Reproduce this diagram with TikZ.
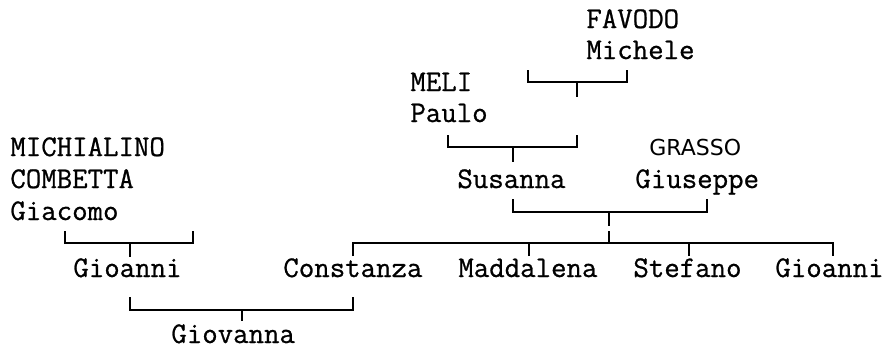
\documentclass[tikz,border=0pt]{standalone}
\usepackage{fontspec}
\usetikzlibrary{positioning}
\newfontfamily\personfont[FakeBold=0.8]{Latin Modern Mono}
\newfontfamily\surnamefont{DejaVu Sans}
\tikzset{
	person/.style={anchor=base west,inner sep=0pt,font=\personfont\fontsize{15}{18}\selectfont},
	surname/.style={anchor=base west,inner sep=0pt,font=\surnamefont\fontsize{11}{13}\selectfont},
	link/.style={line width=0.75pt}
}

\begin{document}
\begin{tikzpicture}[x=0.5pt,y=-0.5pt]
	\useasboundingbox (0,0) rectangle (883,354);
	% names
	\node[person] (favodo) at (586,28) {FAVODO};
	\node[person] (michele) at (586,59) {Michele};
	\node[person] (meli) at (410,91) {MELI};
	\node[person] (paulo) at (410,122) {Paulo};
	\node[person] (michialino) at (10,156) {MICHIALINO};
	\node[person] (combetta) at (10,188) {COMBETTA};
	\node[person] (giacomo) at (10,220) {Giacomo};
	\node[surname] (grasso) at (649,155) {GRASSO};
	\node[person] (susanna) at (457,188) {Susanna};
	\node[person] (giuseppe) at (635,188) {Giuseppe};
	\node[person] (gioanni) at (73,277) {Gioanni};
	\node[person] (constanza) at (283,277) {Constanza};
	\node[person] (maddalena) at (458,277) {Maddalena};
	\node[person] (stefano) at (633,277) {Stefano};
	\node[person] (gioannib) at (775,277) {Gioanni};
	\node[person] (giovanna) at (171,343) {Giovanna};

	% bracket under Michele
	\node[coordinate] (micl) at (528,70) {};
	\node[coordinate] (micr) at (627,70) {};
	\node[coordinate] (micj) at (577,82) {};
	\node[coordinate] (mics) at (577,97) {};
	\draw[link] (micl) |- (micj) -| (micr);
	\draw[link] (micj) -- (mics);

	% bracket under Paulo
	\node[coordinate] (paul) at (448,135) {};
	\node[coordinate] (paur) at (577,135) {};
	\node[coordinate] (pauj) at (513,147) {};
	\node[coordinate] (paus) at (513,162) {};
	\draw[link] (paul) |- (pauj) -| (paur);
	\draw[link] (pauj) -- (paus);

	% bracket under Susanna and Giuseppe
	\node[coordinate] (susl) at (513,199) {};
	\node[coordinate] (susr) at (707,199) {};
	\node[coordinate] (susj) at (609,212) {};
	\node[coordinate] (suss) at (609,226) {};
	\draw[link] (susl) |- (susj) -| (susr);
	\draw[link] (susj) -- (suss);

	% bracket under Giacomo
	\node[coordinate] (gial) at (65,231) {};
	\node[coordinate] (giar) at (193,231) {};
	\node[coordinate] (giaj) at (130,243) {};
	\node[coordinate] (gias) at (130,257) {};
	\draw[link] (gial) |- (giaj) -| (giar);
	\draw[link] (giaj) -- (gias);

	% children bar
	\node[coordinate] (kidt) at (609,231) {};
	\node[coordinate] (kidj) at (609,243) {};
	\node[coordinate] (kid1) at (353,256) {};
	\node[coordinate] (kid2) at (529,256) {};
	\node[coordinate] (kid3) at (689,256) {};
	\node[coordinate] (kid4) at (833,256) {};
	\draw[link] (kidt) -- (kidj);
	\draw[link] (kid1) |- (kidj) -| (kid4);
	\draw[link] (kid2) -- (kid2 |- kidj);
	\draw[link] (kid3) -- (kid3 |- kidj);

	% bracket under Gioanni and Constanza
	\node[coordinate] (giol) at (130,297) {};
	\node[coordinate] (gior) at (353,297) {};
	\node[coordinate] (gioj) at (242,310) {};
	\node[coordinate] (gios) at (242,321) {};
	\draw[link] (giol) |- (gioj) -| (gior);
	\draw[link] (gioj) -- (gios);
\end{tikzpicture}
\end{document}
